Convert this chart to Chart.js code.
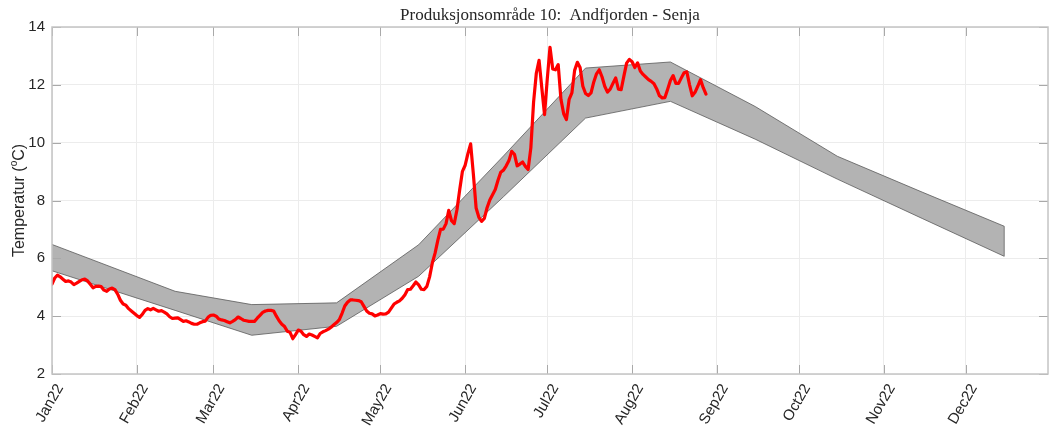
<!DOCTYPE html>
<html>
<head>
<meta charset="utf-8">
<script src="https://cdn.jsdelivr.net/npm/chart.js@4.4.1/dist/chart.umd.min.js"></script>
<style>
  html, body { margin: 0; padding: 0; background: #ffffff; }
  #wrap { width: 1051px; height: 434px; position: relative; }
</style>
</head>
<body>
<div id="wrap"><canvas id="c" width="1051" height="434"></canvas></div>
<script>
// Day-of-year (0 = 1 Jan 2022) for each month start, and its label
const monthStarts = [0, 31, 59, 90, 120, 151, 181, 212, 243, 273, 304, 334];
const monthLabels = ['Jan22', 'Feb22', 'Mar22', 'Apr22', 'May22', 'Jun22',
                     'Jul22', 'Aug22', 'Sep22', 'Oct22', 'Nov22', 'Dec22'];

// Normal range band: knot days (1 Jan, then mid-month) with lower / upper temperature
const bandDays  = [0, 45, 73, 104, 134, 165, 195, 226, 257, 287, 318, 348];
const bandLower = [5.57, 4.20, 3.34, 3.65, 5.38, 8.13, 10.85, 11.43, 10.12, 8.74, 7.38, 6.07];
const bandUpper = [6.48, 4.86, 4.40, 4.46, 6.47, 9.54, 12.58, 12.79, 11.25, 9.53, 8.29, 7.11];

// Daily sea temperature 2022, starting 1 Jan
const tempStartDay = 0;
const dailyTemp = [
  5.11, 5.32, 5.42, 5.36, 5.28, 5.20, 5.22, 5.18, 5.09, 5.14,
  5.20, 5.26, 5.28, 5.22, 5.10, 4.98, 5.03, 5.04, 5.02, 4.90,
  4.86, 4.94, 4.97, 4.92, 4.76, 4.55, 4.42, 4.38, 4.26, 4.18,
  4.10, 4.02, 3.96, 4.06, 4.20, 4.26, 4.22, 4.27, 4.22, 4.17,
  4.19, 4.14, 4.08, 3.98, 3.92, 3.93, 3.94, 3.88, 3.82, 3.84,
  3.80, 3.75, 3.72, 3.72, 3.77, 3.81, 3.83, 3.96, 4.03, 4.04,
  4.00, 3.90, 3.87, 3.85, 3.81, 3.77, 3.82, 3.88, 3.97, 3.92,
  3.86, 3.84, 3.82, 3.82, 3.82, 3.93, 4.03, 4.13, 4.18, 4.20,
  4.20, 4.18, 4.00, 3.84, 3.72, 3.64, 3.48, 3.44, 3.22, 3.36,
  3.52, 3.48, 3.36, 3.30, 3.38, 3.35, 3.30, 3.25, 3.40, 3.46,
  3.50, 3.55, 3.62, 3.70, 3.78, 3.88, 4.10, 4.35, 4.48, 4.56,
  4.56, 4.55, 4.54, 4.50, 4.34, 4.18, 4.10, 4.08, 4.01, 4.04,
  4.09, 4.07, 4.08, 4.14, 4.28, 4.42, 4.48, 4.53, 4.62, 4.74,
  4.92, 4.93, 5.05, 5.18, 5.08, 4.93, 4.92, 5.03, 5.36, 5.84,
  6.18, 6.62, 7.00, 7.01, 7.20, 7.66, 7.30, 7.20, 7.68, 8.37,
  9.01, 9.22, 9.62, 9.96, 8.90, 7.74, 7.42, 7.28, 7.38, 7.75,
  8.02, 8.20, 8.38, 8.70, 8.98, 9.05, 9.20, 9.38, 9.70, 9.60,
  9.20, 9.26, 9.33, 9.18, 9.07, 9.82, 11.40, 12.40, 12.85, 11.90,
  10.97, 12.20, 13.30, 12.55, 12.52, 12.70, 11.50, 11.00, 10.80, 11.50,
  11.72, 12.50, 12.78, 12.60, 11.95, 11.70, 11.63, 11.72, 12.10, 12.38,
  12.52, 12.28, 11.95, 11.75, 11.85, 12.05, 12.24, 11.85, 11.83, 12.30,
  12.75, 12.88, 12.80, 12.60, 12.76, 12.48, 12.36, 12.27, 12.18, 12.12,
  12.04, 11.86, 11.62, 11.55, 11.56, 11.85, 12.15, 12.32, 12.05, 12.05,
  12.24, 12.42, 12.45, 12.00, 11.62, 11.74, 11.95, 12.18, 11.90, 11.68
];

const yTicks = [2, 4, 6, 8, 10, 12, 14];
const titleText = 'Produksjonsområde 10:  Andfjorden - Senja';

const AXIS_COLOR = '#c4c4c4';
const TICK_COLOR = '#a9a9a9';
const TEXT_COLOR = '#262626';
const GRID_COLOR = '#ececec';

const bandLowerPts = bandDays.map((d, i) => ({ x: d, y: bandLower[i] }));
const bandUpperPts = bandDays.map((d, i) => ({ x: d, y: bandUpper[i] }));
const lastBand = bandDays.length - 1;
const bandEdgePts = [
  { x: bandDays[lastBand], y: bandLower[lastBand] },
  { x: bandDays[lastBand], y: bandUpper[lastBand] }
];
const tempPts = dailyTemp.map((v, i) => ({ x: tempStartDay + i, y: v }));

// Box, inward tick marks, title and y-axis label in the MATLAB figure style
const framePlugin = {
  id: 'frame',
  afterDraw(chart) {
    const ctx = chart.ctx;
    const a = chart.chartArea;
    const xs = chart.scales.x, ys = chart.scales.y;
    const tl = 9;
    ctx.save();
    ctx.strokeStyle = TICK_COLOR;
    ctx.lineWidth = 1;
    ctx.beginPath();
    monthStarts.forEach(v => {
      const px = Math.round(xs.getPixelForValue(v)) + 0.5;
      ctx.moveTo(px, a.bottom); ctx.lineTo(px, a.bottom - tl);
      ctx.moveTo(px, a.top); ctx.lineTo(px, a.top + tl);
    });
    yTicks.forEach(v => {
      const py = Math.round(ys.getPixelForValue(v)) + 0.5;
      ctx.moveTo(a.left, py); ctx.lineTo(a.left + tl, py);
      ctx.moveTo(a.right, py); ctx.lineTo(a.right - tl, py);
    });
    ctx.stroke();

    ctx.strokeStyle = AXIS_COLOR;
    ctx.lineWidth = 1.5;
    ctx.strokeRect(a.left, a.top, a.right - a.left, a.bottom - a.top);

    // title
    ctx.fillStyle = TEXT_COLOR;
    ctx.font = '17px "Liberation Serif", "DejaVu Serif", serif';
    ctx.textAlign = 'center';
    ctx.textBaseline = 'alphabetic';
    ctx.fillText(titleText, (a.left + a.right) / 2, 20);

    // y-axis label with superscript degree "o"
    const mainFont = '16px "Liberation Sans", Arial, sans-serif';
    const supFont = '10px "Liberation Sans", Arial, sans-serif';
    const p1 = 'Temperatur (', sup = 'o', p2 = 'C)';
    ctx.font = mainFont;
    const w1 = ctx.measureText(p1).width, w3 = ctx.measureText(p2).width;
    ctx.font = supFont;
    const w2 = ctx.measureText(sup).width;
    const total = w1 + w2 + w3;
    ctx.translate(24, (a.top + a.bottom) / 2);
    ctx.rotate(-Math.PI / 2);
    ctx.textAlign = 'left';
    ctx.textBaseline = 'alphabetic';
    let x0 = -total / 2;
    ctx.font = mainFont;
    ctx.fillText(p1, x0, 0);
    ctx.font = supFont;
    ctx.fillText(sup, x0 + w1, -7);
    ctx.font = mainFont;
    ctx.fillText(p2, x0 + w1 + w2, 0);
    ctx.restore();
  }
};

new Chart(document.getElementById('c'), {
  type: 'line',
  data: {
    datasets: [
      {
        label: 'Temperatur',
        data: tempPts,
        borderColor: '#ff0000',
        borderWidth: 3.2,
        pointRadius: 0,
        tension: 0,
        fill: false,
        order: 0,
        borderJoinStyle: 'round',
        borderCapStyle: 'round'
      },
      {
        label: 'Nedre',
        data: bandLowerPts,
        borderColor: '#5a5a5a',
        borderWidth: 0.8,
        pointRadius: 0,
        tension: 0,
        fill: false,
        order: 2
      },
      {
        label: 'Øvre',
        data: bandUpperPts,
        borderColor: '#5a5a5a',
        borderWidth: 0.8,
        backgroundColor: '#b3b3b3',
        pointRadius: 0,
        tension: 0,
        fill: '-1',
        order: 1
      },
      {
        label: 'Kant',
        data: bandEdgePts,
        borderColor: '#5a5a5a',
        borderWidth: 0.8,
        pointRadius: 0,
        fill: false,
        order: 1
      }
    ]
  },
  options: {
    responsive: false,
    animation: false,
    devicePixelRatio: 1,
    layout: { padding: { left: 0, right: 3, top: 27, bottom: 0 } },
    plugins: {
      legend: { display: false },
      title: { display: false },
      tooltip: { enabled: false },
      filler: { drawTime: 'beforeDatasetsDraw' }
    },
    scales: {
      x: {
        type: 'linear',
        min: 0,
        max: 364,
        afterBuildTicks: (scale) => { scale.ticks = monthStarts.map(v => ({ value: v })); },
        afterFit: (scale) => { scale.height = 60; },
        ticks: {
          autoSkip: false,
          maxRotation: 60,
          minRotation: 60,
          padding: 7,
          labelOffset: 8,
          color: TEXT_COLOR,
          font: { family: '"Liberation Sans", Arial, sans-serif', size: 15 },
          callback: (v) => { const i = monthStarts.indexOf(v); return i >= 0 ? monthLabels[i] : ''; }
        },
        grid: { color: GRID_COLOR, lineWidth: 1, drawTicks: false },
        border: { display: false }
      },
      y: {
        min: 2,
        max: 14,
        afterBuildTicks: (scale) => { scale.ticks = yTicks.map(v => ({ value: v })); },
        afterFit: (scale) => { scale.width = 52; },
        ticks: {
          padding: 7,
          color: TEXT_COLOR,
          font: { family: '"Liberation Sans", Arial, sans-serif', size: 15 }
        },
        grid: { color: GRID_COLOR, lineWidth: 1, drawTicks: false },
        border: { display: false }
      }
    }
  },
  plugins: [framePlugin]
});
</script>
</body>
</html>
